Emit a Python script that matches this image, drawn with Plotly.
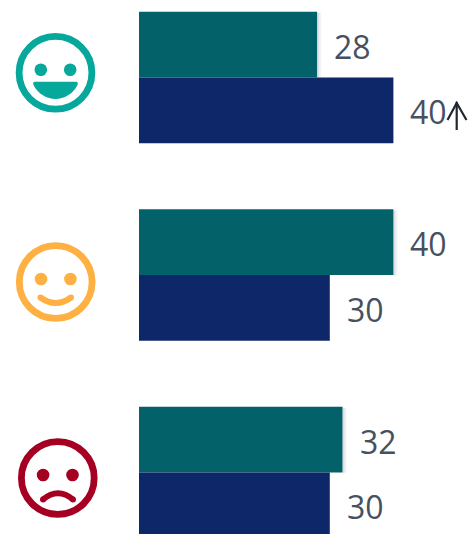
import plotly.graph_objects as go

W, H = 472, 534
categories = ["Positive", "Neutral", "Negative"]
series_a = [28, 40, 32]
series_b = [40, 30, 30]
TEAL, NAVY = "#03616a", "#0d2769"
LABEL = "#47505e"

X0, UNIT = 139, 6.36
CY0, PITCH = 77.5, 197.5
BARGAP = 1 - 131.5 / PITCH


def px(x):
    return x / W


def py(y):
    return 1 - y / H


def path(cmds):
    out = []
    for c in cmds:
        if isinstance(c, str):
            out.append(c)
        else:
            out.append(f"{px(c[0]):.5f},{py(c[1]):.5f}")
    return " ".join(out)


shapes = []


def circle(cx, cy, r, line=None, lw=0, fill=None):
    shapes.append(dict(type="circle", xref="paper", yref="paper", layer="above",
                       x0=px(cx - r), x1=px(cx + r), y0=py(cy + r), y1=py(cy - r),
                       line=dict(color=line or "rgba(0,0,0,0)", width=lw),
                       fillcolor=fill or "rgba(0,0,0,0)"))


def stroke(cmds, color, lw):
    shapes.append(dict(type="path", xref="paper", yref="paper", layer="above", path=path(cmds),
                       line=dict(color=color, width=lw)))


def face(cx, cy, color):
    circle(cx, cy, 36.4, line=color, lw=6.8)
    circle(cx - 14.7, cy - 3, 6.3, fill=color)
    circle(cx + 14.7, cy - 3, 6.3, fill=color)


def curve(p0, ctrl, p1, color, lw):
    stroke(["M", p0, "Q", ctrl, p1], color, lw)
    circle(p0[0], p0[1], lw / 2, fill=color)
    circle(p1[0], p1[1], lw / 2, fill=color)


# Faint shadows to the right of the teal bars
for i, v in enumerate(series_a):
    top = CY0 + i * PITCH - 65.75
    xr = X0 + v * UNIT
    for off, a in ((4, 0.05), (2, 0.08)):
        shapes.append(dict(type="rect", xref="paper", yref="paper", layer="below",
                           x0=px(xr), x1=px(xr + off), y0=py(top + 66), y1=py(top + 1),
                           line=dict(width=0), fillcolor=f"rgba(0,0,0,{a})"))

# happy face
c1 = "#05a89a"
face(55.5, 72.8, c1)
shapes.append(dict(type="path", xref="paper", yref="paper", layer="above", line=dict(width=0), fillcolor=c1,
                   path=path(["M", (35, 81.7), "L", (76, 81.7), "Q", (78.5, 81.7), (77.5, 85),
                              "C", (73, 94), (64, 99), (55.5, 99), "C", (47, 99), (38, 94), (33.5, 85),
                              "Q", (32.5, 81.7), (35, 81.7), "Z"])))
# neutral smile
c2 = "#ffb043"
face(55.7, 282, c2)
curve((40.5, 297.5), (55.7, 308.5), (71, 297.5), c2, 6)
# sad face
c3 = "#a50021"
face(57.8, 478, c3)
curve((43, 499.5), (58, 487), (73, 499.5), c3, 6)
# arrow
AR = "#22262e"
stroke(["M", (456.7, 102), "L", (456.7, 130)], AR, 2.2)
stroke(["M", (447.5, 120), "L", (456.7, 103), "L", (466.5, 120)], AR, 2.2)

fig = go.Figure()
fig.add_bar(y=categories, x=series_a, orientation="h", marker=dict(color=TEAL, line=dict(width=0)))
fig.add_bar(y=categories, x=series_b, orientation="h", marker=dict(color=NAVY, line=dict(width=0)))

annotations = []
for i, (a, b) in enumerate(zip(series_a, series_b)):
    for v, off in ((a, -0.1665), (b, 0.1665)):
        annotations.append(dict(x=v, y=i + off, xref="x", yref="y", text=str(v), showarrow=False,
                                xanchor="left", yanchor="middle", xshift=15, yshift=-1.5,
                                font=dict(family="Open Sans", size=32, color=LABEL)))

fig.update_layout(
    width=W, height=H, autosize=False, margin=dict(l=0, r=0, t=0, b=0),
    paper_bgcolor="white", plot_bgcolor="white", showlegend=False,
    barmode="group", bargap=BARGAP, bargroupgap=0,
    shapes=shapes, annotations=annotations,
    xaxis=dict(range=[-X0 / UNIT, (W - X0) / UNIT], visible=False, fixedrange=True),
    yaxis=dict(type="category", categoryorder="array", categoryarray=categories,
               range=[(H - CY0) / PITCH, -CY0 / PITCH], visible=False, fixedrange=True),
)
fig.write_html("out.html", config=dict(displayModeBar=False),
               post_script="document.documentElement.style.overflow='hidden';document.body.style.margin='0';")
